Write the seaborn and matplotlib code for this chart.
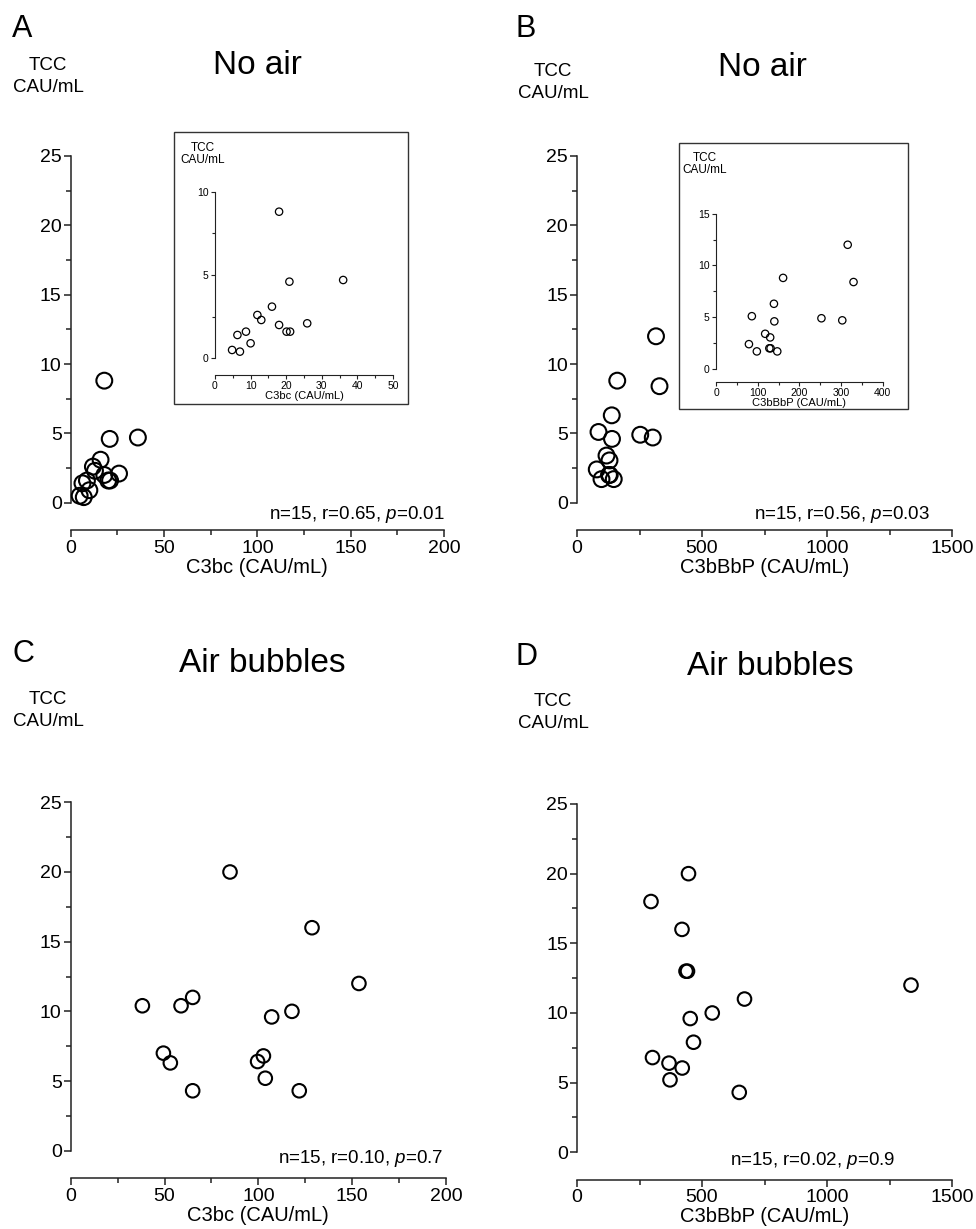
import numpy as np
import pandas as pd
import matplotlib
matplotlib.use("Agg")
import matplotlib.pyplot as plt
from matplotlib.patches import Rectangle
from matplotlib.ticker import MultipleLocator
import seaborn as sns

# Panel A / inset A: No air, C3bc vs TCC
a_c3bc = [4.8, 7.0, 6.3, 8.7, 10.0, 11.9, 13.0, 16.0, 18.0, 20.1, 21.1, 25.9, 20.9, 36.0, 18.0]
a_tcc = [0.5, 0.4, 1.4, 1.6, 0.9, 2.6, 2.3, 3.1, 2.0, 1.6, 1.6, 2.1, 4.6, 4.7, 8.8]

# Panel B / inset B: No air, C3bBbP vs TCC
b_c3bbbp = [86, 79, 98, 118, 130, 128, 131, 147, 139, 140, 161, 253, 303, 330, 316]
b_tcc = [5.1, 2.4, 1.7, 3.4, 3.05, 2.0, 2.0, 1.7, 6.3, 4.6, 8.8, 4.9, 4.7, 8.4, 12.0]

# Panel C: Air bubbles, C3bc vs TCC
c_c3bc = [38.2, 58.8, 65.0, 49.4, 53.1, 65.0, 84.9, 128.6, 153.6, 117.9, 107.1, 102.7, 99.6, 103.7, 121.8]
c_tcc = [10.4, 10.4, 11.0, 7.0, 6.3, 4.3, 20.0, 16.0, 12.0, 10.0, 9.6, 6.8, 6.4, 5.2, 4.3]

# Panel D: Air bubbles, C3bBbP vs TCC
d_c3bbbp = [446, 296, 420, 436, 442, 1336, 670, 541, 453, 466, 302, 368, 421, 372, 649]
d_tcc = [20.0, 18.0, 16.0, 13.0, 13.0, 12.0, 11.0, 10.0, 9.6, 7.9, 6.8, 6.4, 6.05, 5.2, 4.3]

stats = ["n=15, r=0.65, $p$=0.01", "n=15, r=0.56, $p$=0.03",
         "n=15, r=0.10, $p$=0.7", "n=15, r=0.02, $p$=0.9"]

sns.set_style("ticks")
plt.rcParams["font.family"] = ["Liberation Sans", "DejaVu Sans"]
plt.rcParams["mathtext.fontset"] = "custom"
plt.rcParams["mathtext.rm"] = "Liberation Sans"
plt.rcParams["mathtext.it"] = "Liberation Sans:italic"
plt.rcParams["text.color"] = "black"
plt.rcParams["axes.labelcolor"] = "black"
plt.rcParams["xtick.color"] = "black"
plt.rcParams["ytick.color"] = "black"

W, H = 976, 1229
fig = plt.figure(figsize=(W / 100, H / 100), dpi=100)


def rect(x0, y0, x1, y1):
    return [x0 / W, 1 - y1 / H, (x1 - x0) / W, (y1 - y0) / H]


def ftext(x, y, s, **kw):
    fig.text(x / W, 1 - y / H, s, va="baseline", **kw)


def style_axes(ax, xmax, xmajor, ymax, ymajor, outward, fs, lw, ticklen):
    ax.set_xlim(0, xmax)
    ax.set_ylim(0, ymax)
    ax.xaxis.set_major_locator(MultipleLocator(xmajor))
    ax.xaxis.set_minor_locator(MultipleLocator(xmajor / 2))
    ax.yaxis.set_major_locator(MultipleLocator(ymajor))
    ax.yaxis.set_minor_locator(MultipleLocator(ymajor / 2))
    for side in ["top", "right"]:
        ax.spines[side].set_visible(False)
    ax.spines["bottom"].set_position(("outward", outward))
    for side in ["left", "bottom"]:
        ax.spines[side].set_linewidth(lw)
        ax.spines[side].set_color("#222222")
    ax.tick_params(which="major", length=ticklen, width=lw, labelsize=fs,
                   color="#222222", labelcolor="black", pad=1.5)
    ax.tick_params(which="minor", length=ticklen * 0.7, width=lw, color="#222222")
    ax.patch.set_alpha(0)


def scatter(ax, x, y, s, lw):
    df = pd.DataFrame({"x": x, "y": y})
    sns.scatterplot(data=df, x="x", y="y", ax=ax, s=s, marker="o",
                    facecolor="none", edgecolor="black", linewidth=lw,
                    clip_on=False, zorder=5)
    ax.set_xlabel("")
    ax.set_ylabel("")


# main panels
panels = [
    (rect(70.7, 156, 444, 502.7), a_c3bc, a_tcc, 200, 50, "C3bc (CAU/mL)", 130),
    (rect(577, 156, 952, 502.7), b_c3bbbp, b_tcc, 1500, 500, "C3bBbP (CAU/mL)", 130),
    (rect(70.7, 802.3, 446, 1150.7), c_c3bc, c_tcc, 200, 50, "C3bc (CAU/mL)", 95),
    (rect(577, 804, 952, 1152.3), d_c3bbbp, d_tcc, 1500, 500, "C3bBbP (CAU/mL)", 95),
]
stat_pos = [(445, 519), (930, 519), (443, 1163), (895, 1165)]

for (r, x, y, xmax, xmaj, xlab, s), st, sp in zip(panels, stats, stat_pos):
    ax = fig.add_axes(r)
    scatter(ax, x, y, s, 1.5)
    style_axes(ax, xmax, xmaj, 25, 5, 20, 14, 1.1, 5)
    ax.set_xlabel(xlab, fontsize=14.5, labelpad=1)
    ftext(sp[0], sp[1], st, ha="right", fontsize=13.5)

# panel letters, titles, y labels
for letter, lx, ly in [("A", 12, 37), ("B", 515, 37), ("C", 12, 662), ("D", 515, 665)]:
    ftext(lx, ly, letter, fontsize=22)
for title, tx, ty in [("No air", 257, 74), ("No air", 762, 76),
                      ("Air bubbles", 262, 672), ("Air bubbles", 770, 675)]:
    ftext(tx, ty, title, ha="center", fontsize=24)
for cx, ty in [(48, 70), (553, 76), (48, 704), (553, 706)]:
    ftext(cx, ty, "TCC", ha="center", fontsize=13.5)
    ftext(cx, ty + 22, "CAU/mL", ha="center", fontsize=13.5)

# inset boxes
for x0, y0, x1, y1 in [(174, 132, 408, 404), (679, 143, 908, 409)]:
    fig.patches.append(Rectangle((x0 / W, 1 - y1 / H), (x1 - x0) / W, (y1 - y0) / H,
                                 transform=fig.transFigure, fill=False,
                                 edgecolor="#333333", linewidth=1.0))

# inset A
axi = fig.add_axes(rect(215, 191.7, 393, 358.3))
scatter(axi, a_c3bc, a_tcc, 28, 0.9)
style_axes(axi, 50, 10, 10, 5, 12, 7.5, 0.8, 3)
axi.xaxis.set_minor_locator(MultipleLocator(5))
axi.yaxis.set_minor_locator(MultipleLocator(2.5))
axi.set_xlabel("C3bc (CAU/mL)", fontsize=8, labelpad=0)
ftext(203, 151, "TCC", ha="center", fontsize=8.5)
ftext(203, 163.3, "CAU/mL", ha="center", fontsize=8.5)

# inset B
axi = fig.add_axes(rect(716, 213.7, 882.7, 369))
scatter(axi, b_c3bbbp, b_tcc, 28, 0.9)
style_axes(axi, 400, 100, 15, 5, 9.5, 7.5, 0.8, 3)
axi.yaxis.set_minor_locator(MultipleLocator(2.5))
axi.set_xlabel("C3bBbP (CAU/mL)", fontsize=8, labelpad=0)
ftext(705, 161, "TCC", ha="center", fontsize=8.5)
ftext(705, 172.7, "CAU/mL", ha="center", fontsize=8.5)

fig.savefig("out.png", dpi=100)
